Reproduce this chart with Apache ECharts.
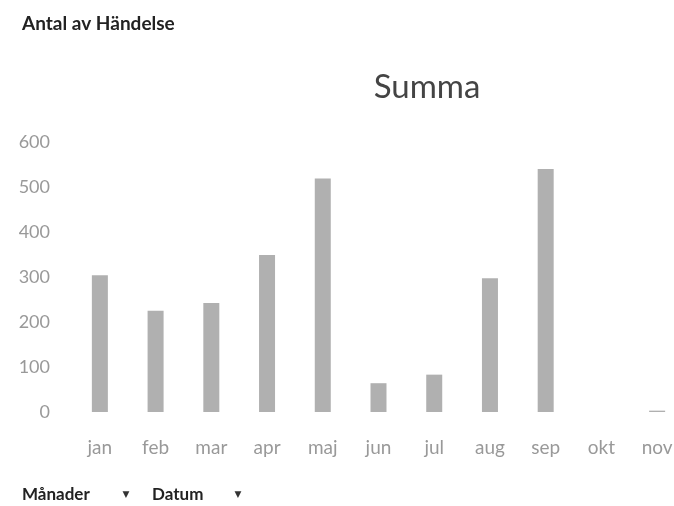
<!DOCTYPE html>
<html>
<head>
<meta charset="utf-8">
<style>
  html, body { margin: 0; padding: 0; background: #fff; overflow: hidden; }
  #main { width: 690px; height: 506px; }
</style>
<script src="https://cdn.jsdelivr.net/npm/echarts@6/dist/echarts.min.js"></script>
</head>
<body>
<div id="main"></div>
<script>
var months = ['jan', 'feb', 'mar', 'apr', 'maj', 'jun', 'jul', 'aug', 'sep', 'okt', 'nov'];
var counts = [304, 225, 242, 349, 519, 64, 83, 297, 540, 0, 3];
var yTicks = [0, 100, 200, 300, 400, 500, 600];

var chartDom = document.getElementById('main');
var myChart = echarts.init(chartDom);

var bold = { fontSize: 17, fontWeight: 'bold', fill: '#222', fontFamily: 'Lato', verticalAlign: 'middle' };
var arrow = { fontSize: 9, fill: '#333', fontFamily: 'DejaVu Sans', align: 'center', verticalAlign: 'middle' };

var option = {
  animation: false,
  backgroundColor: '#fff',
  textStyle: { fontFamily: 'Lato' },
  title: [
    {
      text: 'Summa',
      left: 422,
      textAlign: 'center',
      top: 66,
      textStyle: { fontSize: 33, fontWeight: 'normal', color: '#444', fontFamily: 'Lato' }
    }
  ],
  graphic: [
    { type: 'text', x: 22, y: 24, style: { text: 'Antal av Händelse', fontSize: 19, fontWeight: 'bold', fill: '#222', fontFamily: 'Lato', verticalAlign: 'middle' } },
    { type: 'text', x: 22, y: 495, style: Object.assign({ text: 'Månader' }, bold) },
    { type: 'text', x: 126, y: 495, style: Object.assign({ text: '▼' }, arrow) },
    { type: 'text', x: 152, y: 495, style: Object.assign({ text: 'Datum' }, bold) },
    { type: 'text', x: 238, y: 495, style: Object.assign({ text: '▼' }, arrow) }
  ],
  grid: {
    left: 72,
    top: 142,
    right: 5,
    height: 270,
    containLabel: false
  },
  xAxis: {
    type: 'category',
    data: months,
    axisLine: { show: false },
    axisTick: { show: false },
    axisLabel: { color: '#999', fontSize: 19, margin: 26 }
  },
  yAxis: {
    type: 'value',
    min: yTicks[0],
    max: yTicks[yTicks.length - 1],
    interval: 100,
    splitLine: { show: false },
    axisLine: { show: false },
    axisTick: { show: false },
    axisLabel: { color: '#999', fontSize: 18, margin: 22 }
  },
  series: [
    {
      type: 'bar',
      data: counts,
      barWidth: 16,
      itemStyle: { color: '#b0b0b0' }
    }
  ]
};

myChart.setOption(option);
window.addEventListener('resize', myChart.resize);
</script>
</body>
</html>
